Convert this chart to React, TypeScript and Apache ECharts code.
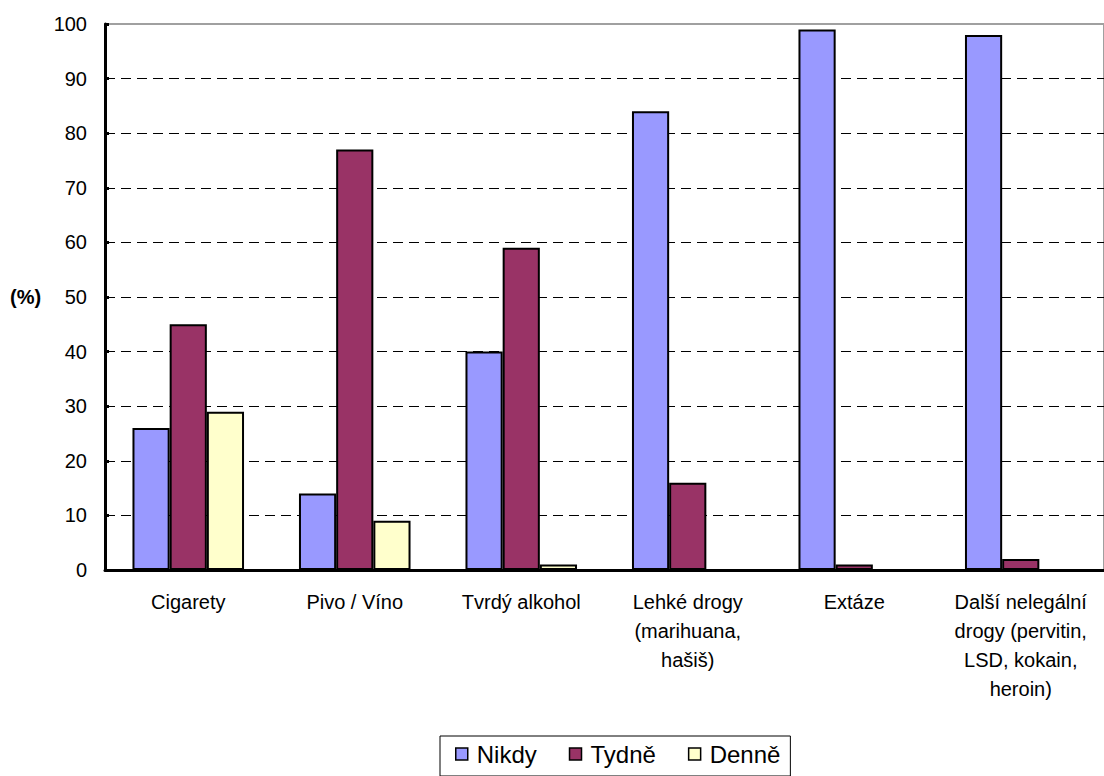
import React, { useEffect, useRef } from "react";
import * as echarts from "echarts";

const categories = [
  "Cigarety",
  "Pivo / Víno",
  "Tvrdý alkohol",
  "Lehké drogy\n(marihuana,\nhašiš)",
  "Extáze",
  "Další nelegální\ndrogy (pervitin,\nLSD, kokain,\nheroin)",
];
const nikdy = [26, 14, 40, 84, 99, 98];
const tydne = [45, 77, 59, 16, 1, 2];
const denne = [29, 9, 1, 0, 0, 0];
const seriesNames = ["Nikdy", "Tydně", "Denně"];
const seriesColors = ["#9999FF", "#993366", "#FFFFCC"];

const FONT = "'Liberation Sans', Arial, sans-serif";

export default function App() {
  const ref = useRef<HTMLDivElement>(null);

  useEffect(() => {
    if (!ref.current) return;
    const chart = echarts.init(ref.current, null, { renderer: "svg" });
    const values = [nikdy, tydne, denne];
    chart.setOption({
      animation: false,
      backgroundColor: "#ffffff",
      textStyle: { fontFamily: FONT, color: "#000" },
      grid: {
        left: 105,
        top: 24,
        width: 1008,
        height: 546,
        show: true,
        borderColor: "#a0a0a0",
        borderWidth: 2,
        backgroundColor: "transparent",
      },
      legend: {
        left: 440,
        top: 736,
        data: seriesNames,
        icon: "rect",
        itemWidth: 12,
        itemHeight: 12,
        itemGap: 32,
        padding: [6, 10, 10, 15],
        borderColor: "#000",
        borderWidth: 1,
        backgroundColor: "#fff",
        itemStyle: { borderColor: "#000", borderWidth: 1.5 },
        textStyle: { fontSize: 24, fontFamily: FONT, color: "#000", padding: [0, 0, 0, 4] },
      },
      xAxis: {
        type: "category",
        data: categories,
        axisLine: { lineStyle: { color: "#000", width: 3 } },
        axisTick: { inside: true, length: 5, lineStyle: { color: "#000", width: 3 } },
        axisLabel: {
          fontSize: 20,
          lineHeight: 29,
          margin: 17,
          color: "#000",
          fontFamily: FONT,
          interval: 0,
          align: "center",
        },
        splitLine: { show: false },
      },
      yAxis: {
        type: "value",
        min: 0,
        max: 100,
        interval: 10,
        axisLine: { show: true, lineStyle: { color: "#000", width: 3 } },
        axisTick: { show: true, inside: true, length: 4, lineStyle: { color: "#000", width: 3 } },
        axisLabel: { fontSize: 20, margin: 18, color: "#000", fontFamily: FONT },
        splitLine: {
          show: true,
          showMaxLine: false,
          showMinLine: false,
          lineStyle: { color: "#000", width: 1, type: [10, 6] },
        },
      },
      graphic: [
        {
          type: "text",
          left: 10,
          top: 287,
          style: {
            text: "(%)",
            font: `bold 20px ${FONT}`,
            fill: "#000",
          },
        },
      ],
      series: seriesNames.map((name, i) => ({
        name,
        type: "bar",
        data: values[i],
        barGap: "0%",
        barCategoryGap: "33%",
        itemStyle: { color: seriesColors[i], borderColor: "#000", borderWidth: 2 },
      })),
    });
    return () => chart.dispose();
  }, []);

  return (
    <div
      ref={ref}
      style={{ position: "absolute", left: 0, top: 0, width: 1104, height: 776 }}
    />
  );
}
